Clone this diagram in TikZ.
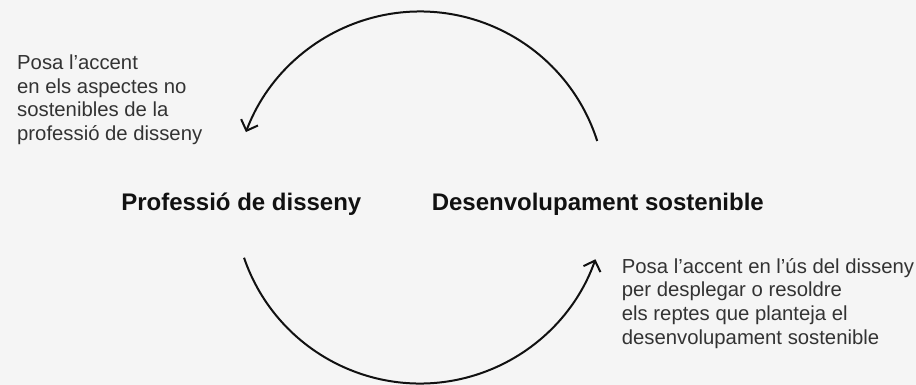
\documentclass[tikz,border=0pt]{standalone}
\usepackage{fontspec}
\setmainfont{Liberation Sans}
\usepackage{xcolor}
\usetikzlibrary{arrows.meta}

\definecolor{paper}{HTML}{F5F5F5}
\definecolor{ink}{HTML}{111111}
\definecolor{greyink}{HTML}{333333}

\tikzset{
  cycle/.style={line width=2pt, ink, -{Straight Barb[length=9pt,width=18pt,line width=2pt]}},
  field/.style={inner sep=0pt, anchor=base, text=ink,
    font=\fontsize{24pt}{28pt}\selectfont\bfseries},
  remark/.style={inner sep=0pt, anchor=base west, align=left, text=greyink,
    font=\fontsize{20.3pt}{23.8pt}\selectfont}
}

\begin{document}
\begin{tikzpicture}[x=1pt,y=1pt]
    \fill[paper] (0,0) rectangle (916,-385);
    \useasboundingbox (0,0) rectangle (916,-385);
    \coordinate(c) at (420,-197.5);
    \coordinate(topstart) at ([shift={(17.7:186)}]c);
    \coordinate(botstart) at ([shift={(198.9:186)}]c);
    \node(prof)[field] at (241.3,-210) {Professió de disseny};
    \node(sost)[field] at (597.8,-210) {Desenvolupament sostenible};
    % base sits on the last line
    \node(noteL)[remark] at (17,-140.6) {Posa l’accent\\en els aspectes no\\sostenibles de la\\professió de disseny};
    \node(noteR)[remark] at (621.7,-344.5) {Posa l’accent en l’ús del disseny\\per desplegar o resoldre\\els reptes que planteja el\\desenvolupament sostenible};
    \draw[cycle] (topstart) arc[start angle=17.7, end angle=159.4, radius=186];
    \draw[cycle] (botstart) arc[start angle=198.9, end angle=340.6, radius=186];
\end{tikzpicture}
\end{document}
